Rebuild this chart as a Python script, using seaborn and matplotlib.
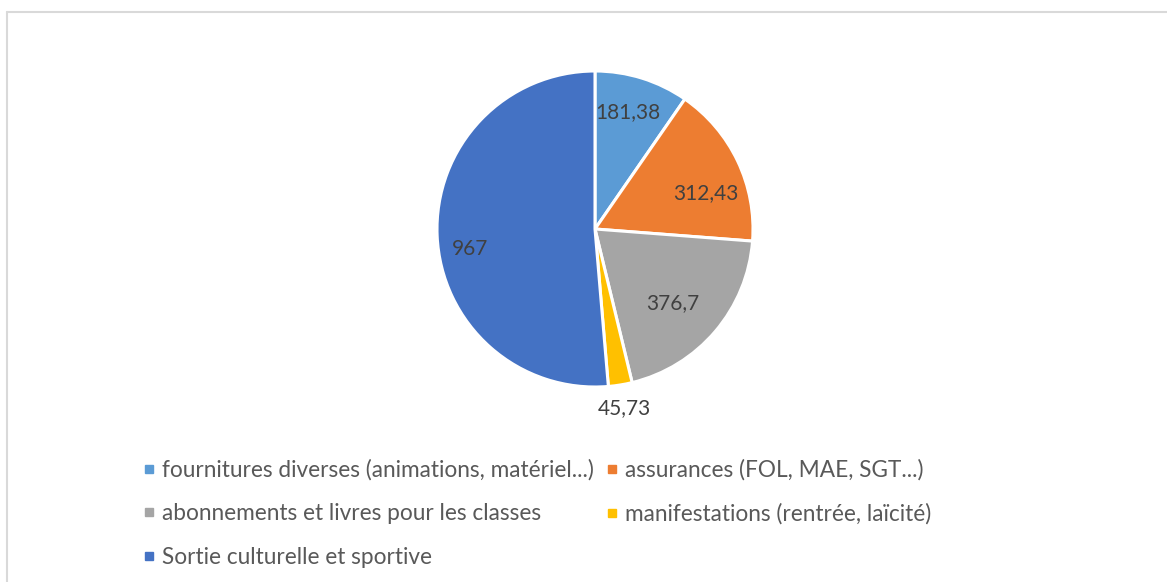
import matplotlib
matplotlib.use("Agg")
import matplotlib.pyplot as plt
from matplotlib.lines import Line2D
import seaborn as sns
import numpy as np

categories = ["fournitures diverses (animations, matériel...)",
              "assurances (FOL, MAE, SGT...)",
              "abonnements et livres pour les classes",
              "manifestations (rentrée, laïcité)",
              "Sortie culturelle et sportive"]
values = [181.38, 312.43, 376.7, 45.73, 967]
value_labels = ["181,38", "312,43", "376,7", "45,73", "967"]
colors = ["#5B9BD5", "#ED7D31", "#A5A5A5", "#FFC000", "#4472C4"]

# label placement (radial distance, angular nudge in degrees)
label_dist = [0.77, 0.74, 0.68, 1.15, 0.80]
label_shift = [1.5, -7.4, -3.5, 0, 6.5]

sns.set_theme(style="white")
plt.rcParams['font.family'] = ['Lato', 'DejaVu Sans']
text_col = "#595959"

fig = plt.figure(figsize=(11.67, 5.82), dpi=100)
# chart area frame (only top and left edges visible)
fig.add_artist(Line2D([7/1167, 7/1167], [0, 1 - 12/582], transform=fig.transFigure,
                      color="#D9D9D9", lw=1.5))
fig.add_artist(Line2D([7/1167, 1], [1 - 12/582, 1 - 12/582], transform=fig.transFigure,
                      color="#D9D9D9", lw=1.5))

# pie centre (595, 229), radius 158 px
r = 158
ax = fig.add_axes([(595 - r) / 1167, 1 - (229 + r) / 582, 2 * r / 1167, 2 * r / 582])
wedges, _ = ax.pie(values, colors=colors, startangle=90, counterclock=False,
                   radius=1, wedgeprops=dict(edgecolor="white", linewidth=2.2))
ax.set_xlim(-1, 1)
ax.set_ylim(-1, 1)
ax.set_aspect("auto")

for w, lab, d, s in zip(wedges, value_labels, label_dist, label_shift):
    ang = np.deg2rad((w.theta1 + w.theta2) / 2 + s)
    ax.text(d * np.cos(ang), d * np.sin(ang), lab, ha="center", va="center",
            fontsize=15, color="#404040", clip_on=False)

order = [0, 2, 4, 1, 3]
handles = [Line2D([], [], marker="s", ls="", color=colors[i], markersize=6) for i in order]
leg = fig.legend(handles, [categories[i] for i in order], ncol=2,
                 loc="upper left", bbox_to_anchor=(134 / 1167, 1 - 450 / 582),
                 frameon=False, fontsize=16.3, labelcolor=text_col,
                 handlelength=0.55, handletextpad=0.3, columnspacing=0.5,
                 labelspacing=1.0, borderaxespad=0)

fig.savefig("out.png", dpi=100)
